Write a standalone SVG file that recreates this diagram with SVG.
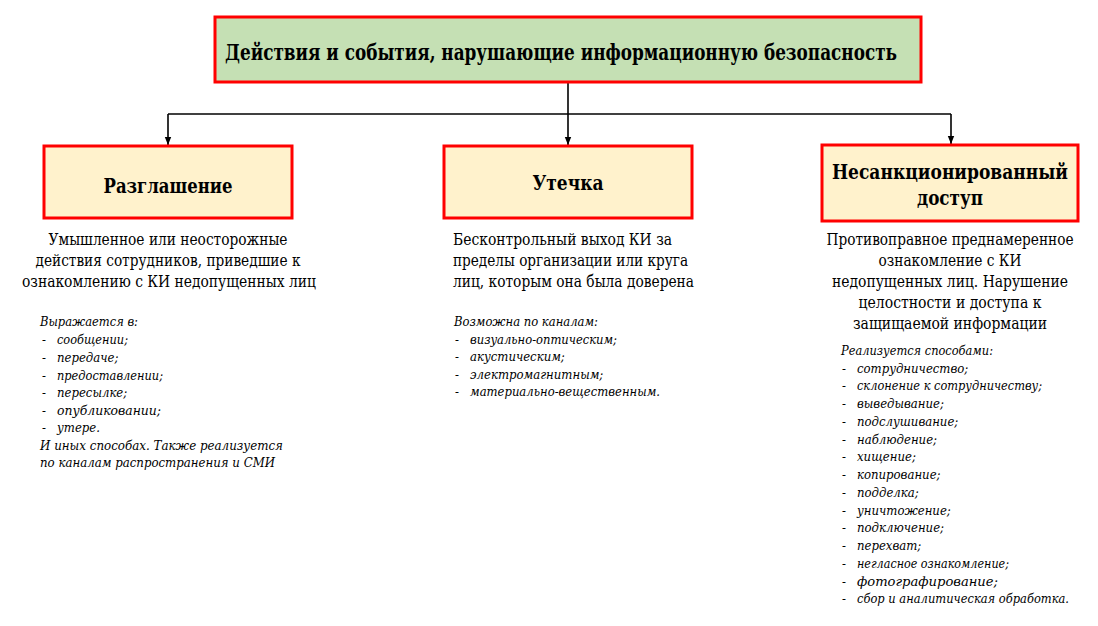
<svg xmlns="http://www.w3.org/2000/svg" width="1098" height="626" viewBox="0 0 1098 626">
<style>
.box{stroke:#ff0000;stroke-width:3}
.top{fill:#c5e0b4}
.sub{fill:#fff2cc}
.t{font-family:'DejaVu Serif Condensed','DejaVu Serif',serif;font-stretch:condensed;fill:#000}
.h{font-weight:bold;font-size:20px;text-anchor:middle}
.d{font-size:16px}
.i{font-style:italic;font-size:13px}
.c{stroke:#000;stroke-width:1.6;fill:none}
</style>
<defs>
<marker id="ar" markerWidth="8" markerHeight="8" refX="8" refY="4" orient="auto" markerUnits="userSpaceOnUse">
<path d="M0,0.8 L8,4 L0,7.2 z" fill="#000"/>
</marker>
</defs>
<rect width="1098" height="626" fill="#fff"/>
<g id="connectors">
<path class="c" d="M568,82 V114"/>
<path class="c" d="M168,114 H951"/>
<path class="c" d="M168,114 V145" marker-end="url(#ar)"/>
<path class="c" d="M568,114 V145" marker-end="url(#ar)"/>
<path class="c" d="M951,114 V144" marker-end="url(#ar)"/>
</g>
<g id="root">
<rect class="box top" x="215" y="17" width="706" height="65"/>
<text class="t h" x="561" y="60" textLength="672" lengthAdjust="spacingAndGlyphs" style="font-size:22.5px">Действия и события, нарушающие информационную безопасность</text>
</g>
<g id="razglashenie">
<rect class="box sub" x="44" y="146" width="248" height="72"/>
<text class="t h" x="168" y="193" textLength="129" lengthAdjust="spacingAndGlyphs">Разглашение</text>
</g>
<g id="utechka">
<rect class="box sub" x="444" y="146" width="248" height="72"/>
<text class="t h" x="568" y="190" textLength="71" lengthAdjust="spacingAndGlyphs">Утечка</text>
</g>
<g id="nsd">
<rect class="box sub" x="822" y="145" width="256" height="76"/>
<text class="t h" x="950" y="179" textLength="236" lengthAdjust="spacingAndGlyphs">Несанкционированный</text>
<text class="t h" x="950" y="205" textLength="66" lengthAdjust="spacingAndGlyphs">доступ</text>
</g>
<g id="desc-left" class="t d" text-anchor="middle">
<text x="168" y="245" textLength="239" lengthAdjust="spacingAndGlyphs">Умышленное или неосторожные</text>
<text x="168" y="266" textLength="265" lengthAdjust="spacingAndGlyphs">действия сотрудников, приведшие к</text>
<text x="169" y="287" textLength="294" lengthAdjust="spacingAndGlyphs">ознакомлению с КИ недопущенных лиц</text>
</g>
<g id="desc-mid" class="t d">
<text x="453" y="245" textLength="219" lengthAdjust="spacingAndGlyphs">Бесконтрольный выход КИ за</text>
<text x="453" y="266" textLength="235" lengthAdjust="spacingAndGlyphs">пределы организации или круга</text>
<text x="453" y="287" textLength="241" lengthAdjust="spacingAndGlyphs">лиц, которым она была доверена</text>
</g>
<g id="desc-right" class="t d" text-anchor="middle">
<text x="950" y="245" textLength="247" lengthAdjust="spacingAndGlyphs">Противоправное преднамеренное</text>
<text x="950" y="266" textLength="143" lengthAdjust="spacingAndGlyphs">ознакомление с КИ</text>
<text x="950" y="287" textLength="236" lengthAdjust="spacingAndGlyphs">недопущенных лиц. Нарушение</text>
<text x="950" y="308" textLength="183" lengthAdjust="spacingAndGlyphs">целостности и доступа к</text>
<text x="950" y="329" textLength="194" lengthAdjust="spacingAndGlyphs">защищаемой информации</text>
</g>
<g id="list-left" class="t i">
<text x="40" y="326" textLength="98" lengthAdjust="spacingAndGlyphs">Выражается в:</text>
<text x="42" y="344">-</text><text x="57" y="344" textLength="71" lengthAdjust="spacingAndGlyphs">сообщении;</text>
<text x="42" y="362">-</text><text x="57" y="362">передаче;</text>
<text x="42" y="380">-</text><text x="57" y="380" textLength="106" lengthAdjust="spacingAndGlyphs">предоставлении;</text>
<text x="42" y="397">-</text><text x="57" y="397">пересылке;</text>
<text x="42" y="415">-</text><text x="57" y="415" textLength="104" lengthAdjust="spacingAndGlyphs">опубликовании;</text>
<text x="42" y="432">-</text><text x="57" y="432">утере.</text>
<text x="40" y="450" textLength="243" lengthAdjust="spacingAndGlyphs">И иных способах. Также реализуется</text>
<text x="40" y="467" textLength="235" lengthAdjust="spacingAndGlyphs">по каналам распространения и СМИ</text>
</g>
<g id="list-mid" class="t i">
<text x="454" y="326" textLength="144" lengthAdjust="spacingAndGlyphs">Возможна по каналам:</text>
<text x="455" y="344">-</text><text x="470" y="344" textLength="147" lengthAdjust="spacingAndGlyphs">визуально-оптическим;</text>
<text x="455" y="361">-</text><text x="470" y="361">акустическим;</text>
<text x="455" y="379">-</text><text x="470" y="379">электромагнитным;</text>
<text x="455" y="396">-</text><text x="470" y="396" textLength="190" lengthAdjust="spacingAndGlyphs">материально-вещественным.</text>
</g>
<g id="list-right" class="t i">
<text x="841" y="355" textLength="152" lengthAdjust="spacingAndGlyphs">Реализуется способами:</text>
<text x="842" y="373">-</text><text x="857" y="373">сотрудничество;</text>
<text x="842" y="390">-</text><text x="857" y="390" textLength="185" lengthAdjust="spacingAndGlyphs">склонение к сотрудничеству;</text>
<text x="842" y="408">-</text><text x="857" y="408">выведывание;</text>
<text x="842" y="426">-</text><text x="857" y="426">подслушивание;</text>
<text x="842" y="444">-</text><text x="857" y="444">наблюдение;</text>
<text x="842" y="461">-</text><text x="857" y="461">хищение;</text>
<text x="842" y="479">-</text><text x="857" y="479">копирование;</text>
<text x="842" y="497">-</text><text x="857" y="497">подделка;</text>
<text x="842" y="515">-</text><text x="857" y="515">уничтожение;</text>
<text x="842" y="532">-</text><text x="857" y="532">подключение;</text>
<text x="842" y="550">-</text><text x="857" y="550">перехват;</text>
<text x="842" y="568">-</text><text x="857" y="568" textLength="152" lengthAdjust="spacingAndGlyphs">негласное ознакомление;</text>
<text x="842" y="586">-</text><text x="857" y="586" textLength="141" lengthAdjust="spacingAndGlyphs">фотографирование;</text>
<text x="842" y="603">-</text><text x="857" y="603" textLength="212" lengthAdjust="spacingAndGlyphs">сбор и аналитическая обработка.</text>
</g>
</svg>
